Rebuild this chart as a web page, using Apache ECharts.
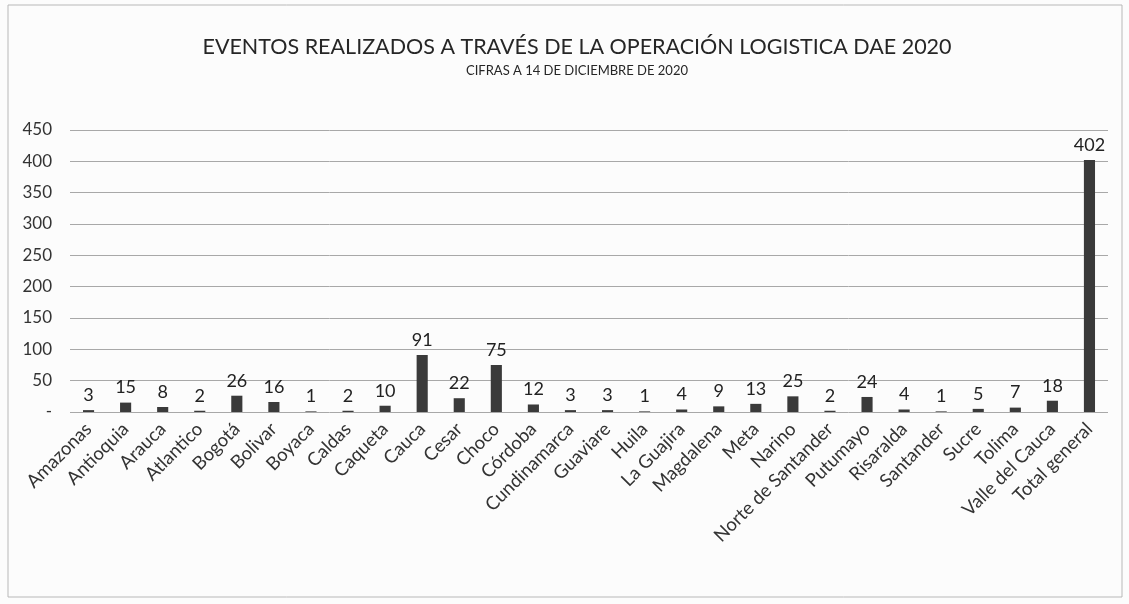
<!DOCTYPE html>
<html><head><meta charset="utf-8">
<script src="https://cdn.jsdelivr.net/npm/echarts@6/dist/echarts.min.js"></script>
<style>html,body{margin:0;padding:0;background:#fcfcfc}#c{width:1129px;height:604px}</style>
</head><body><div id="c"></div>
<script>
const categories = ['Amazonas','Antioquia','Arauca','Atlantico','Bogotá','Bolivar','Boyaca','Caldas','Caqueta','Cauca','Cesar','Choco','Córdoba','Cundinamarca','Guaviare','Huila','La Guajira','Magdalena','Meta','Narino','Norte de Santander','Putumayo','Risaralda','Santander','Sucre','Tolima','Valle del Cauca','Total general'];
const values = [3,15,8,2,26,16,1,2,10,91,22,75,12,3,3,1,4,9,13,25,2,24,4,1,5,7,18,402];
const titleText = 'EVENTOS REALIZADOS A TRAVÉS DE LA OPERACIÓN LOGISTICA DAE 2020';
const subtitleText = 'CIFRAS A 14 DE DICIEMBRE DE 2020';
const font = 'Lato, "Open Sans", sans-serif';
const chart = echarts.init(document.getElementById('c'));
chart.setOption({
  backgroundColor: '#fcfcfc',
  animation: false,
  title: {
    text: titleText, subtext: subtitleText, left: 572, textAlign: 'center', top: 31,
    textStyle: {fontFamily: font, fontSize: 21.5, fontWeight: 'normal', color: '#262626'},
    subtextStyle: {fontFamily: font, fontSize: 13, color: '#262626'}, itemGap: 6
  },
  graphic: [{type: 'rect', shape: {x: 8, y: 5, width: 1114, height: 592}, style: {fill: 'none', stroke: '#b8b8b8', lineWidth: 1}}],
  grid: {left: 70, right: 21, top: 130, bottom: 192},
  xAxis: {
    type: 'category', data: categories,
    axisLine: {show: false}, axisTick: {show: false},
    axisLabel: {rotate: 45, interval: 0, fontFamily: font, fontSize: 18.5, color: '#333', margin: 14}
  },
  yAxis: {
    type: 'value', min: 0, max: 450, interval: 50,
    axisLine: {show: false}, axisTick: {show: false},
    axisLabel: {fontFamily: font, fontSize: 17, color: '#333', margin: 18, formatter: v => v === 0 ? '-' : v},
    splitLine: {lineStyle: {color: '#a8a8a8', width: 1}}
  },
  series: [{
    type: 'bar', data: values, barWidth: '30%',
    itemStyle: {color: '#3a3a3a'},
    label: {show: true, position: 'top', distance: 6, fontFamily: font, fontSize: 18, color: '#222'}
  }]
});
</script></body></html>
